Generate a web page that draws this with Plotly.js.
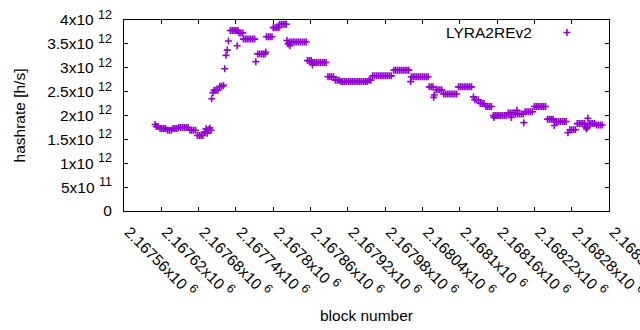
<!DOCTYPE html>
<html>
<head>
<meta charset="utf-8">
<script src="https://cdn.plot.ly/plotly-3.0.1.min.js"></script>
<style>html,body{margin:0;padding:0;background:#fff;}#chart{width:640px;height:330px;}</style>
</head>
<body>
<div id="chart"></div>
<script>
// block numbers
const blocks = [
2167610,2167612,2167615,2167618,2167621,2167624,2167627,2167630,2167633,2167636,
2167639,2167642,2167645,2167648,2167651,2167654,2167657,2167660,2167663,2167666,
2167669,2167672,2167675,2167678,2167681,2167684,2167687,2167690,2167692,2167694,
2167696,2167698,2167700,2167701,2167703,2167705,2167708,2167711,2167714,2167717,
2167720,2167722,2167724,2167726,2167728,2167731,2167734,2167737,2167740,2167743,
2167742,2167745,2167748,2167751,2167752,2167755,2167758,2167761,2167764,2167767,
2167770,2167772,2167775,2167778,2167781,2167784,2167787,2167788,2167789,2167792,
2167795,2167798,2167800,2167803,2167806,2167809,2167810,2167813,2167816,2167819,
2167821,2167822,2167824,2167826,2167827,2167829,2167832,2167835,2167838,2167841,
2167844,2167847,2167850,2167853,2167855,2167858,2167861,2167863,2167864,2167867,
2167870,2167873,2167876,2167879,2167882,2167885,2167888,2167891,2167894,2167897,
2167900,2167903,2167906,2167909,2167912,2167915,2167918,2167921,2167924,2167927,
2167930,2167933,2167936,2167939,2167942,2167945,2167948,2167951,2167954,2167957,
2167960,2167963,2167966,2167969,2167972,2167975,2167978,2167981,2167984,2167987,
2167990,2167994,2167997,2168000,2168003,2168006,2168009,2168012,2168015,2168018,
2168021,2168022,2168025,2168028,2168031,2168034,2168037,2168040,2168043,2168046,
2168049,2168051,2168054,2168057,2168058,2168059,2168062,2168065,2168068,2168071,
2168074,2168077,2168080,2168083,2168086,2168089,2168092,2168095,2168098,2168101,
2168104,2168107,2168110,2168113,2168116,2168119,2168122,2168124,2168127,2168130,
2168133,2168136,2168139,2168142,2168145,2168148,2168151,2168154,2168157,2168160,
2168163,2168166,2168169,2168172,2168175,2168155,2168178,2168181,2168184,2168187,
2168183,2168190,2168193,2168196,2168199,2168202,2168192,2168203,2168205,2168208,
2168211,2168214,2168217,2168220,2168223,2168226,2168229,2168232,2168235,2168238,
2168241,2168244,2168247,2168250,2168252,2168253,2168256,2168259,2168262,2168265,
2168268,2168271,2168274,2168277,2168280,2168283,2168286,2168289,2168292,2168295,
2168298,2168301,2168303,2168305,2168304,2168306,2168308,2168311,2168314,2168317,
2168320,2168323,2168326,2168329
];
// hashrate in units of 10^12 h/s
const hashrateT = [
1.81,1.77,1.77,1.73,1.73,1.73,1.73,1.69,1.69,1.69,
1.73,1.73,1.73,1.75,1.75,1.75,1.75,1.75,1.75,1.69,
1.69,1.69,1.69,1.58,1.58,1.58,1.58,1.66,1.72,1.63,
1.70,1.74,1.69,2.35,2.48,2.53,2.53,2.53,2.61,2.61,
2.63,2.98,3.26,3.37,3.56,3.78,3.78,3.78,3.78,3.78,
3.46,3.73,3.73,3.73,3.60,3.60,3.60,3.60,3.60,3.60,
3.60,3.125,3.29,3.29,3.29,3.29,3.29,3.33,3.65,3.65,
3.65,3.65,3.84,3.84,3.84,3.84,3.91,3.91,3.91,3.91,
3.91,3.57,3.50,3.54,3.46,3.54,3.54,3.54,3.54,3.54,
3.54,3.54,3.54,3.54,3.15,3.15,3.15,3.06,3.11,3.11,
3.11,3.11,3.11,3.11,3.11,3.11,2.81,2.81,2.81,2.81,
2.74,2.74,2.74,2.71,2.71,2.71,2.71,2.71,2.71,2.71,
2.71,2.71,2.71,2.71,2.71,2.71,2.71,2.71,2.74,2.74,
2.83,2.83,2.83,2.83,2.83,2.83,2.83,2.83,2.83,2.83,
2.83,2.95,2.95,2.95,2.95,2.95,2.95,2.95,2.95,2.95,
2.71,2.81,2.81,2.81,2.81,2.81,2.81,2.81,2.81,2.81,
2.81,2.60,2.60,2.60,2.38,2.43,2.54,2.54,2.54,2.54,
2.45,2.45,2.45,2.45,2.45,2.45,2.45,2.45,2.60,2.60,
2.60,2.60,2.60,2.60,2.60,2.60,2.39,2.33,2.33,2.33,
2.25,2.25,2.25,2.19,2.19,2.19,2.19,2.00,2.00,2.00,
2.00,2.00,2.00,2.00,2.00,1.96,2.05,2.05,2.05,2.05,
1.96,2.03,2.03,2.03,2.03,2.03,2.11,1.85,2.08,2.08,
2.08,2.08,2.08,2.19,2.19,2.19,2.19,2.19,2.19,2.19,
1.92,1.92,1.92,1.92,1.79,1.875,1.875,1.875,1.875,1.875,
1.875,1.875,1.64,1.70,1.70,1.70,1.70,1.83,1.83,1.83,
1.83,1.83,1.75,1.75,1.72,1.94,1.83,1.83,1.83,1.83,
1.80,1.80,1.80,1.80
];
const seriesName = "LYRA2REv2";
const xTickVals = [2167560,2167620,2167680,2167740,2167800,2167860,2167920,2167980,2168040,2168100,2168160,2168220,2168280,2168340];
const xTickMantissa = ["2.16756","2.16762","2.16768","2.16774","2.1678","2.16786","2.16792","2.16798","2.16804","2.1681","2.16816","2.16822","2.16828","2.16834"];
const yTickVals = [0,5e11,1e12,1.5e12,2e12,2.5e12,3e12,3.5e12,4e12];
const yTickMantissa = ["0","5","1","1.5","2","2.5","3","3.5","4"];
const yTickExponent = ["","11","12","12","12","12","12","12","12"];

const FONT = "Liberation Sans, Arial, sans-serif";
const FS = 15.5;
const sup = e => '<sup><span style="font-size:12.5px">' + e + '</span></sup>';
const yTickLabels = yTickMantissa.map((m, i) => yTickExponent[i] ? m + "x10 " + sup(yTickExponent[i]) : m);
const xTickLabels = xTickMantissa.map(m => m + "x10 " + sup("6"));

const trace = {
  x: blocks,
  y: hashrateT.map(v => v * 1e12),
  type: "scatter",
  mode: "markers",
  name: "",
  marker: {symbol: "cross-thin", size: 5, color: "#9400d3", line: {color: "#9400d3", width: 1.6}},
  hoverinfo: "x+y"
};
const layout = {
  width: 640, height: 330,
  margin: {l: 124, r: 31, t: 19.5, b: 119},
  paper_bgcolor: "#fff", plot_bgcolor: "#fff",
  font: {family: FONT, size: FS, color: "#000"},
  showlegend: true,
  legend: {
    x: 0.872, xanchor: "left", y: 1.021, yanchor: "top",
    bgcolor: "rgba(0,0,0,0)", borderwidth: 0,
    font: {family: FONT, size: FS, color: "#000"}
  },
  annotations: [{
    text: seriesName, xref: "paper", yref: "paper",
    x: 0.8454, xanchor: "right", y: 0.935, yanchor: "middle",
    showarrow: false, font: {family: FONT, size: FS, color: "#000"}
  }],
  xaxis: {
    range: [2167560, 2168340],
    tickmode: "array", tickvals: xTickVals, ticktext: xTickLabels,
    tickangle: 45, ticklabeloverflow: "allow",
    ticks: "inside", ticklen: 4, tickcolor: "#000", tickwidth: 1,
    showline: true, linecolor: "#000", linewidth: 1, mirror: "ticks",
    showgrid: false, zeroline: false,
    tickfont: {family: FONT, size: FS, color: "#000"},
    ticklabelstandoff: 5, ticklabelshift: 5,
    title: {text: "block number", font: {family: FONT, size: FS, color: "#000"}, standoff: 10}
  },
  yaxis: {
    range: [0, 4e12],
    tickmode: "array", tickvals: yTickVals, ticktext: yTickLabels,
    ticks: "inside", ticklen: 4, tickcolor: "#000", tickwidth: 1,
    showline: true, linecolor: "#000", linewidth: 1, mirror: "ticks",
    showgrid: false, zeroline: false,
    tickfont: {family: FONT, size: FS, color: "#000"},
    ticklabelstandoff: 8,
    title: {text: "hashrate [h/s]", font: {family: FONT, size: FS, color: "#000"}, standoff: 17}
  }
};
Plotly.newPlot("chart", [trace], layout, {staticPlot: true, displayModeBar: false});
</script>
</body>
</html>
